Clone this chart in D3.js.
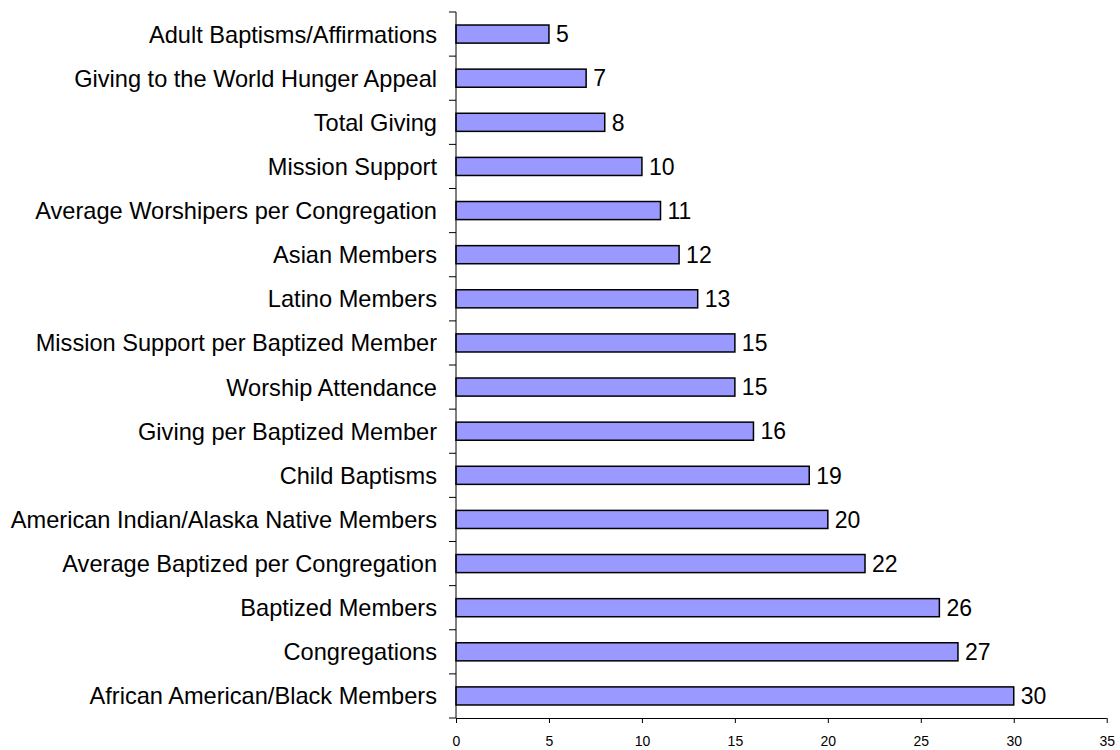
<!DOCTYPE html>
<html>
<head>
<meta charset="utf-8">
<script src="https://cdn.jsdelivr.net/npm/d3@7"></script>
<style>
  html, body { margin: 0; padding: 0; background: #fff; }
  svg text { font-family: Arial, "Liberation Sans", sans-serif; fill: #000; }
</style>
</head>
<body>
<svg id="chart" width="1120" height="750"></svg>
<script>
// Categories, top to bottom
const categories = [
  "Adult Baptisms/Affirmations",
  "Giving to the World Hunger Appeal",
  "Total Giving",
  "Mission Support",
  "Average Worshipers per Congregation",
  "Asian Members",
  "Latino Members",
  "Mission Support per Baptized Member",
  "Worship Attendance",
  "Giving per Baptized Member",
  "Child Baptisms",
  "American Indian/Alaska Native Members",
  "Average Baptized per Congregation",
  "Baptized Members",
  "Congregations",
  "African American/Black Members"
];
const values = [5, 7, 8, 10, 11, 12, 13, 15, 15, 16, 19, 20, 22, 26, 27, 30];
const xTicks = [0, 5, 10, 15, 20, 25, 30, 35];

const svg = d3.select("#chart");
const plotLeft = 456, plotRight = 1106.7, plotTop = 12, plotBottom = 718;

const x = d3.scaleLinear().domain([0, 35]).range([plotLeft, plotRight]);
const y = d3.scaleBand().domain(categories).range([plotTop, plotBottom]).paddingInner(0.59).paddingOuter(0.295);
const band = (plotBottom - plotTop) / categories.length;

// Bars
svg.append("g").selectAll("rect")
  .data(categories)
  .join("rect")
  .attr("x", x(0))
  .attr("y", d => y(d))
  .attr("width", (d, i) => x(values[i]) - x(0))
  .attr("height", y.bandwidth())
  .attr("fill", "#9999ff")
  .attr("stroke", "#000")
  .attr("stroke-width", 1.5);

// Value labels
svg.append("g").selectAll("text")
  .data(categories)
  .join("text")
  .attr("x", (d, i) => x(values[i]) + 7)
  .attr("y", d => y(d) + y.bandwidth() / 2)
  .attr("dy", "0.36em")
  .attr("font-size", 23)
  .text((d, i) => values[i]);

// Category labels
svg.append("g").selectAll("text")
  .data(categories)
  .join("text")
  .attr("x", 437)
  .attr("y", d => y(d) + y.bandwidth() / 2)
  .attr("dy", "0.36em")
  .attr("text-anchor", "end")
  .attr("font-size", 23.6)
  .text(d => d);

// Vertical axis with ticks on category boundaries
const yAxis = svg.append("g");
yAxis.append("line")
  .attr("x1", plotLeft).attr("x2", plotLeft)
  .attr("y1", plotTop).attr("y2", plotBottom)
  .attr("stroke", "#000").attr("stroke-width", 1);
yAxis.selectAll("line.tick")
  .data(d3.range(categories.length + 1))
  .join("line")
  .attr("class", "tick")
  .attr("x1", plotLeft - 7).attr("x2", plotLeft)
  .attr("y1", i => plotTop + i * band).attr("y2", i => plotTop + i * band)
  .attr("stroke", "#000").attr("stroke-width", 1);

// Horizontal axis
const xAxis = d3.axisBottom(x).tickValues(xTicks).tickSize(5).tickPadding(13).tickFormat(d3.format("d"));
const gx = svg.append("g")
  .attr("transform", `translate(0,${plotBottom})`)
  .call(xAxis);
gx.select(".domain").attr("stroke", "#000").attr("d", `M${plotLeft},0.5H${plotRight}`);
gx.selectAll(".tick line").attr("stroke", "#000");
gx.selectAll(".tick text")
  .attr("font-size", 14)
  .attr("font-family", "Arial, 'Liberation Sans', sans-serif")
  .attr("fill", "#000");
</script>
</body>
</html>
